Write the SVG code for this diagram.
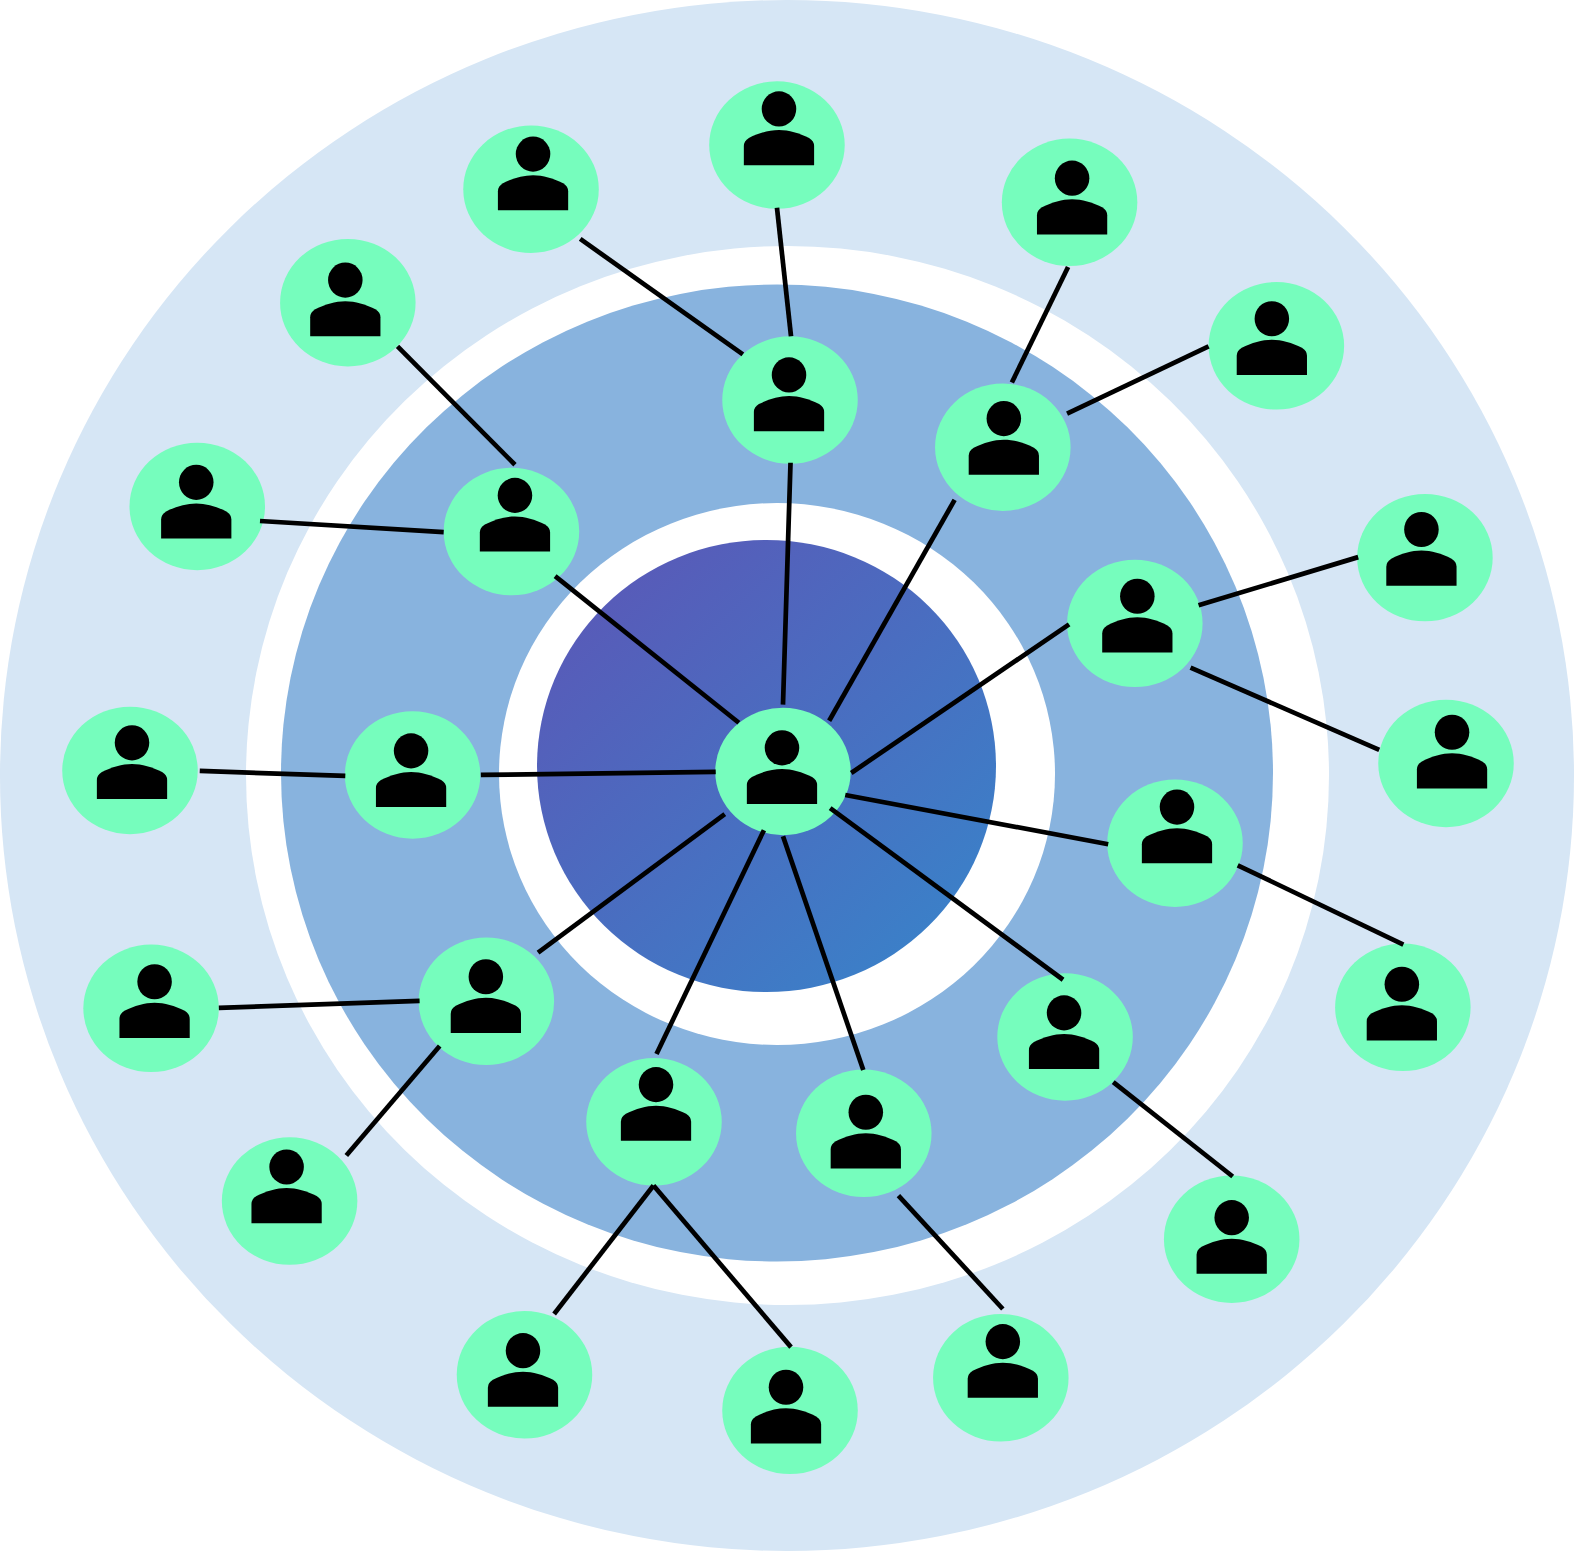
<svg xmlns="http://www.w3.org/2000/svg" width="1574" height="1551" viewBox="0 0 1574 1551">
<style>
.n{fill:#76fdbd}
.c line{stroke:#000;stroke-width:4.7;stroke-linecap:butt}
</style>
<defs>
<linearGradient id="g" x1="0.15" y1="0.15" x2="0.85" y2="0.9">
<stop offset="0" stop-color="#575cb9"/>
<stop offset="1" stop-color="#3b80c8"/>
</linearGradient>
<g id="p">
<ellipse cx="0" cy="0" rx="17.2" ry="17.5"/>
<path d="M-35,56V37Q-35,32 -30,29C-20,24 -10,21 0,21C10,21 20,24 30,29Q35,32 35,37V56Z"/>
</g>
</defs>
<g id="rings">
<ellipse cx="787" cy="775.5" rx="787" ry="775.5" fill="#d6e6f5"/>
<ellipse cx="787.5" cy="775.5" rx="541.5" ry="529.5" fill="#fff"/>
<ellipse cx="777" cy="773" rx="496" ry="488.5" fill="#88b3de"/>
<ellipse cx="777" cy="774" rx="278" ry="271" fill="#fff"/>
<ellipse cx="766.5" cy="766" rx="229.5" ry="226" fill="url(#g)"/>
</g>
<g transform="scale(1.00383)">
<g id="n0"><ellipse class="n" cx="780" cy="768.5" rx="67.5" ry="63.5"/><use href="#p" x="779" y="745"/></g>
<g id="n1"><ellipse class="n" cx="787" cy="398.5" rx="67.5" ry="63.5"/><use href="#p" x="786" y="373.5"/></g>
<g id="n2"><ellipse class="n" cx="999" cy="445.5" rx="67.5" ry="63.5"/><use href="#p" x="1000" y="417"/></g>
<g id="n3"><ellipse class="n" cx="1130.5" cy="621" rx="67.5" ry="63.5"/><use href="#p" x="1133" y="594"/></g>
<g id="n4"><ellipse class="n" cx="1170.5" cy="840" rx="67.5" ry="63.5"/><use href="#p" x="1172.5" y="804"/></g>
<g id="n5"><ellipse class="n" cx="1061" cy="1033" rx="67.5" ry="63.5"/><use href="#p" x="1060" y="1009"/></g>
<g id="n6"><ellipse class="n" cx="860.5" cy="1129" rx="67.5" ry="63.5"/><use href="#p" x="862.5" y="1108"/></g>
<g id="n7"><ellipse class="n" cx="651.5" cy="1117.5" rx="67.5" ry="63.5"/><use href="#p" x="653.5" y="1080.5"/></g>
<g id="n8"><ellipse class="n" cx="484.5" cy="997.5" rx="67.5" ry="63.5"/><use href="#p" x="484" y="973"/></g>
<g id="n9"><ellipse class="n" cx="411" cy="772" rx="67.5" ry="63.5"/><use href="#p" x="409.5" y="748"/></g>
<g id="n10"><ellipse class="n" cx="509.5" cy="529.5" rx="67.5" ry="63.5"/><use href="#p" x="513" y="493.5"/></g>
<g id="n11"><ellipse class="n" cx="774" cy="144.5" rx="67.5" ry="63.5"/><use href="#p" x="776" y="108.5"/></g>
<g id="n12"><ellipse class="n" cx="529" cy="188.5" rx="67.5" ry="63.5"/><use href="#p" x="531" y="153.5"/></g>
<g id="n13"><ellipse class="n" cx="346.5" cy="301.5" rx="67.5" ry="63.5"/><use href="#p" x="344" y="279"/></g>
<g id="n14"><ellipse class="n" cx="196.5" cy="504.5" rx="67.5" ry="63.5"/><use href="#p" x="195.5" y="480.5"/></g>
<g id="n15"><ellipse class="n" cx="129.5" cy="767.5" rx="67.5" ry="63.5"/><use href="#p" x="131.5" y="740"/></g>
<g id="n16"><ellipse class="n" cx="150.5" cy="1004.5" rx="67.5" ry="63.5"/><use href="#p" x="154" y="978"/></g>
<g id="n17"><ellipse class="n" cx="288.5" cy="1196.5" rx="67.5" ry="63.5"/><use href="#p" x="285.5" y="1162.5"/></g>
<g id="n18"><ellipse class="n" cx="522.5" cy="1369.5" rx="67.5" ry="63.5"/><use href="#p" x="521" y="1345.5"/></g>
<g id="n19"><ellipse class="n" cx="787" cy="1405" rx="67.5" ry="63.5"/><use href="#p" x="783" y="1382"/></g>
<g id="n20"><ellipse class="n" cx="997" cy="1372.5" rx="67.5" ry="63.5"/><use href="#p" x="999" y="1336.5"/></g>
<g id="n21"><ellipse class="n" cx="1227" cy="1234.5" rx="67.5" ry="63.5"/><use href="#p" x="1227" y="1213"/></g>
<g id="n22"><ellipse class="n" cx="1397.5" cy="1003.5" rx="67.5" ry="63.5"/><use href="#p" x="1396.5" y="980.5"/></g>
<g id="n23"><ellipse class="n" cx="1440.5" cy="760.5" rx="67.5" ry="63.5"/><use href="#p" x="1446.5" y="729.5"/></g>
<g id="n24"><ellipse class="n" cx="1419.5" cy="555.5" rx="67.5" ry="63.5"/><use href="#p" x="1416" y="527.5"/></g>
<g id="n25"><ellipse class="n" cx="1271.5" cy="344.5" rx="67.5" ry="63.5"/><use href="#p" x="1267" y="317.5"/></g>
<g id="n26"><ellipse class="n" cx="1065.5" cy="201.5" rx="67.5" ry="63.5"/><use href="#p" x="1068" y="177.5"/></g>
<g id="connectors" class="c">
<line x1="787.5" y1="461" x2="780" y2="702"/>
<line x1="951" y1="498" x2="826" y2="718"/>
<line x1="1065" y1="622" x2="848" y2="770"/>
<line x1="1104" y1="841" x2="842" y2="792"/>
<line x1="1059" y1="976" x2="827" y2="805"/>
<line x1="860" y1="1066" x2="780" y2="833"/>
<line x1="654" y1="1050" x2="761" y2="827"/>
<line x1="536" y1="949" x2="722" y2="811"/>
<line x1="479" y1="772" x2="713" y2="769"/>
<line x1="553" y1="574" x2="736" y2="720"/>
<line x1="774" y1="207" x2="788" y2="335"/>
<line x1="578" y1="238" x2="740" y2="353"/>
<line x1="396" y1="345" x2="513" y2="463"/>
<line x1="259" y1="519" x2="442" y2="530"/>
<line x1="199" y1="768" x2="344" y2="773"/>
<line x1="218" y1="1004" x2="418" y2="997"/>
<line x1="345" y1="1151" x2="438" y2="1042"/>
<line x1="552" y1="1309" x2="651" y2="1181"/>
<line x1="788" y1="1342" x2="651" y2="1181"/>
<line x1="999" y1="1304" x2="895" y2="1191"/>
<line x1="1228" y1="1172" x2="1109" y2="1078"/>
<line x1="1398" y1="941" x2="1233" y2="862"/>
<line x1="1374" y1="747" x2="1186" y2="665"/>
<line x1="1353" y1="555" x2="1194" y2="603"/>
<line x1="1204" y1="345" x2="1063" y2="412"/>
<line x1="1064" y1="266" x2="1008" y2="381"/>
</g>
</g>
</svg>
